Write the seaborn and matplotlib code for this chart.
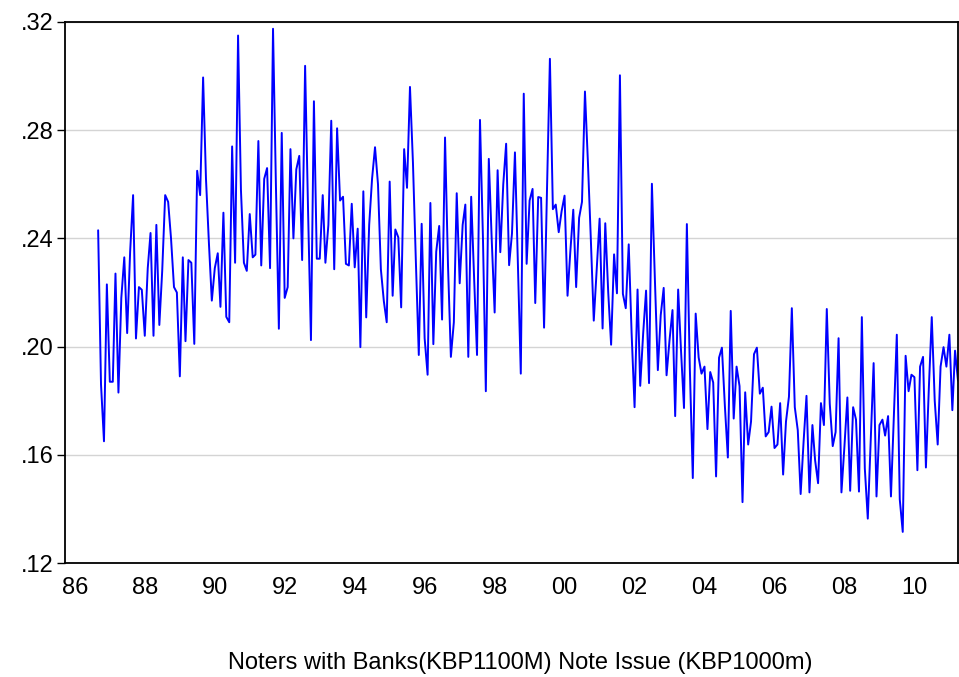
import numpy as np
import pandas as pd
import matplotlib
matplotlib.use('Agg')
import matplotlib.pyplot as plt
import matplotlib.dates as mdates
from matplotlib.ticker import FuncFormatter
import seaborn as sns

# monthly ratio, first observation Sep 1986
start_month = '1986-09-01'

ratio_1986_1988 = [0.243, 0.186, 0.165, 0.223, 0.187, 0.187, 0.227, 0.183, 0.218, 0.233,
                   0.205, 0.235, 0.256, 0.203, 0.222, 0.221, 0.204, 0.229, 0.242, 0.204,
                   0.245, 0.208, 0.228, 0.256, 0.2535, 0.240, 0.222, 0.220, 0.189, 0.233]
ratio_1989_1991 = [0.202, 0.232, 0.231, 0.201, 0.265, 0.256, 0.2995, 0.262, 0.238, 0.217,
                   0.229, 0.2345, 0.2147, 0.2495, 0.211, 0.209, 0.274, 0.231, 0.315, 0.258,
                   0.231, 0.228, 0.249, 0.233, 0.234, 0.276, 0.230, 0.262, 0.266, 0.229]
ratio_1991_1994 = [0.3175, 0.260, 0.2066, 0.279, 0.218, 0.222, 0.273, 0.240, 0.2655, 0.2705,
                   0.232, 0.3038, 0.250, 0.2024, 0.2907, 0.2325, 0.2325, 0.256, 0.231, 0.245,
                   0.2835, 0.2286, 0.2807, 0.254, 0.2554, 0.2306, 0.230, 0.2528, 0.2293, 0.2436]
ratio_1994_1996 = [0.1998, 0.2574, 0.2108, 0.245, 0.262, 0.2737, 0.260, 0.2286, 0.2168, 0.209,
                   0.261, 0.2188, 0.2433, 0.2404, 0.2145, 0.273, 0.2587, 0.296, 0.268, 0.232,
                   0.1969, 0.2454, 0.2031, 0.1896, 0.2531, 0.2009, 0.2351, 0.2446, 0.210, 0.2773]
ratio_1996_1999 = [0.230, 0.1962, 0.209, 0.2567, 0.2234, 0.245, 0.2525, 0.1962, 0.2554, 0.225,
                   0.1969, 0.2838, 0.240, 0.1835, 0.2694, 0.240, 0.2126, 0.2652, 0.2349, 0.260,
                   0.275, 0.2301, 0.2418, 0.2718, 0.230, 0.190, 0.2935, 0.2306, 0.254, 0.2583]
ratio_1999_2001 = [0.2161, 0.2553, 0.255, 0.207, 0.257, 0.3064, 0.2508, 0.2525, 0.2423, 0.250,
                   0.2558, 0.2188, 0.235, 0.2506, 0.222, 0.2476, 0.2535, 0.2943, 0.268, 0.240,
                   0.2096, 0.228, 0.2473, 0.2067, 0.2456, 0.220, 0.2007, 0.2341, 0.2197, 0.3003]
ratio_2001_2004 = [0.2195, 0.2142, 0.2378, 0.205, 0.1776, 0.2211, 0.1855, 0.205, 0.2207, 0.1865,
                   0.2602, 0.225, 0.1913, 0.2116, 0.2217, 0.1894, 0.2024, 0.2135, 0.1743, 0.2211,
                   0.1985, 0.1773, 0.2453, 0.192, 0.1514, 0.2122, 0.196, 0.19, 0.1926, 0.1695]
ratio_2004_2006 = [0.1906, 0.1867, 0.152, 0.1959, 0.1996, 0.178, 0.159, 0.2132, 0.1734, 0.1926,
                   0.1854, 0.1425, 0.1831, 0.1638, 0.1723, 0.1972, 0.1996, 0.1826, 0.1848, 0.1668,
                   0.1684, 0.1778, 0.1625, 0.1638, 0.1791, 0.1527, 0.1723, 0.1815, 0.2142, 0.1776]
ratio_2006_2009 = [0.1691, 0.1455, 0.165, 0.1818, 0.1461, 0.171, 0.158, 0.1495, 0.1791, 0.171,
                   0.2139, 0.1789, 0.1632, 0.1684, 0.2031, 0.1461, 0.163, 0.1812, 0.1467, 0.1776,
                   0.173, 0.1464, 0.2109, 0.155, 0.1364, 0.165, 0.1939, 0.1446, 0.171, 0.173]
ratio_2009_2011 = [0.1671, 0.1743, 0.1446, 0.175, 0.2044, 0.1435, 0.1315, 0.1966, 0.1835, 0.1896,
                   0.1887, 0.1543, 0.1926, 0.1962, 0.1553, 0.185, 0.2109, 0.18, 0.1638, 0.1926,
                   0.1998, 0.1926, 0.2044, 0.1765, 0.1985, 0.1874]

y_ticks = [0.12, 0.16, 0.20, 0.24, 0.28, 0.32]
y_tick_labels = ['.12', '.16', '.20', '.24', '.28', '.32']
x_title = 'Noters with Banks(KBP1100M) Note Issue (KBP1000m)'

ratio = (ratio_1986_1988 + ratio_1989_1991 + ratio_1991_1994 + ratio_1994_1996
         + ratio_1996_1999 + ratio_1999_2001 + ratio_2001_2004 + ratio_2004_2006
         + ratio_2006_2009 + ratio_2009_2011)
dates = pd.date_range(start_month, periods=len(ratio), freq='MS')
df = pd.DataFrame({'date': dates, 'ratio': ratio})

sns.set_style('white')
plt.rcParams['font.family'] = ['Liberation Sans', 'DejaVu Sans']
plt.rcParams['text.color'] = 'black'
plt.rcParams['xtick.color'] = 'black'
plt.rcParams['ytick.color'] = 'black'

fig = plt.figure(figsize=(9.59, 6.77), dpi=100)
ax = fig.add_axes([65 / 959, 114 / 677, 893 / 959, 541 / 677])

sns.lineplot(data=df, x='date', y='ratio', ax=ax, color='#0000ff', linewidth=1.4)

# axis range: a little empty space before the first observation
ax.set_xlim(pd.Timestamp('1985-09-20'), dates[-1])
ax.set_ylim(0.12, 0.32)
ax.set_yticks(y_ticks)
ax.set_yticklabels(y_tick_labels)

ax.xaxis.set_major_locator(mdates.YearLocator(1))
ax.xaxis.set_minor_locator(mdates.MonthLocator(bymonth=[4, 7, 10]))
ax.xaxis.set_major_formatter(FuncFormatter(
    lambda v, pos: (f'{mdates.num2date(v).year % 100:02d}'
                    if mdates.num2date(v).year % 2 == 0 else '')))

ax.yaxis.grid(True, color='#d4d4d4', linewidth=1)
ax.xaxis.grid(False)
ax.set_axisbelow(True)

ax.tick_params(axis='x', which='major', direction='out', length=7, width=1,
               color='black', labelsize=17, labelcolor='black', pad=3)
ax.tick_params(axis='x', which='minor', direction='out', length=4, width=1, color='black')
ax.tick_params(axis='y', direction='out', length=6, width=1, color='black',
               labelsize=17, labelcolor='black', pad=2, left=True)
for s in ax.spines.values():
    s.set_color('black')
    s.set_linewidth(1.3)

ax.set_xlabel('')
ax.set_ylabel('')

fig.text(520 / 959, 1 - 663 / 677, x_title, ha='center', va='center',
         fontsize=17, color='black')

fig.savefig('out.png', dpi=100)
